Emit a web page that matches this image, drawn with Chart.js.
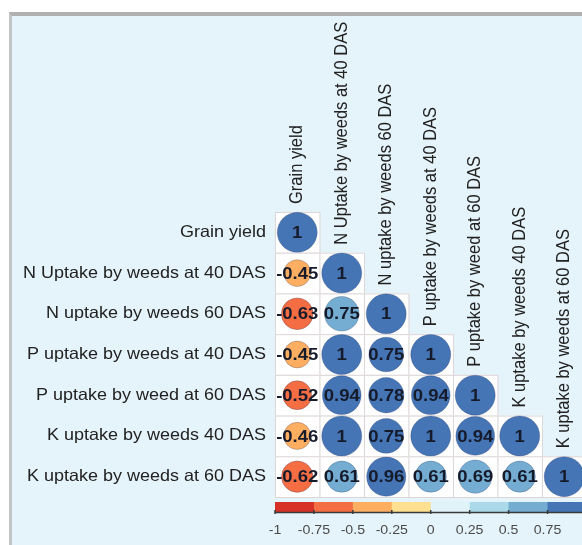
<!DOCTYPE html>
<html>
<head>
<meta charset="utf-8">
<script src="https://cdn.jsdelivr.net/npm/chart.js@4/dist/chart.umd.min.js"></script>
<style>
    html, body { margin: 0; padding: 0; background: #ffffff; }
    #panel {
        position: absolute; left: 9px; top: 12px; width: 573px; height: 533px;
        box-sizing: border-box;
        background: #e5f3fa;
        border-top: 4px solid #b0b0b0;
        border-left: 3px solid #c2c4c6;
    }
    #corrChart { position: absolute; left: 0; top: 0; }
</style>
</head>
<body>
<div id="panel"></div>
<canvas id="corrChart" width="582" height="545"></canvas>
<script>
// Variables (rows top to bottom, columns left to right)
const varLabels = [
    'Grain yield',
    'N Uptake by weeds at 40 DAS',
    'N uptake by weeds 60 DAS',
    'P uptake by weeds at 40 DAS',
    'P uptake by weed at 60 DAS',
    'K uptake by weeds 40 DAS',
    'K uptake by weeds at 60 DAS'
];

// Lower triangle of the correlation matrix, one array per row
const corrRows = [
    [1],
    [-0.45, 1],
    [-0.63, 0.748, 1],
    [-0.45, 1, 0.752, 1],
    [-0.52, 0.94, 0.78, 0.94, 1],
    [-0.46, 1, 0.752, 1, 0.94, 1],
    [-0.62, 0.61, 0.96, 0.61, 0.69, 0.61, 1]
];

// Colour legend
const barBreaks = [-1, -0.75, -0.5, -0.25, 0, 0.25, 0.5, 0.75, 1];
const barTickLabels = ['-1', '-0.75', '-0.5', '-0.25', '0', '0.25', '0.5', '0.75', '1'];
const barColors = ['#d73027', '#f46d43', '#fdae61', '#fee090', '#e0f3f8', '#abd9e9', '#74add1', '#4575b4'];

const STRETCH = 1.09; // the reference is a little wider than tall
const FONT = '"Liberation Sans", Arial, Helvetica, sans-serif';

function colorFor(v) {
    let i = Math.ceil((v + 1) / 0.25) - 1;
    return barColors[Math.min(7, Math.max(0, i))];
}

function fmt(v) {
    if (v === 1) return '1';
    return (Math.round(v * 100) / 100).toFixed(2).replace(/0$/, '');
}

const points = [];
corrRows.forEach((row, i) => {
    row.forEach((v, j) => {
        points.push({ x: j + 1, y: i + 1, r: 20 * Math.sqrt(Math.abs(v)), v: v });
    });
});

function drawText(ctx, text, x, y, angle, font, color, align, baseline) {
    ctx.save();
    ctx.translate(x, y);
    ctx.scale(STRETCH, 1);
    ctx.rotate(angle);
    ctx.font = font;
    ctx.fillStyle = color;
    ctx.textAlign = align;
    ctx.textBaseline = baseline;
    ctx.fillText(text, 0, 0);
    ctx.restore();
}

const corrPlugin = {
    id: 'corrPlugin',
    beforeDatasetsDraw(chart) {
        const { ctx, scales: { x, y } } = chart;
        // cells of the lower triangle
        corrRows.forEach((row, i) => {
            row.forEach((v, j) => {
                const l = x.getPixelForValue(j + 0.5), r = x.getPixelForValue(j + 1.5);
                const t = y.getPixelForValue(i + 0.5), b = y.getPixelForValue(i + 1.5);
                ctx.fillStyle = '#ffffff';
                ctx.fillRect(l, t, r - l, b - t);
                ctx.strokeStyle = '#ddd6d6';
                ctx.lineWidth = 1;
                ctx.strokeRect(l + 0.5, t + 0.5, r - l, b - t);
            });
        });
        // row labels
        varLabels.forEach((lab, i) => {
            drawText(ctx, lab, x.getPixelForValue(0.5) - 9, y.getPixelForValue(i + 1),
                0, '16.5px ' + FONT, '#222222', 'right', 'middle');
        });
        // column labels, vertical above the diagonal cell
        varLabels.forEach((lab, j) => {
            drawText(ctx, lab, x.getPixelForValue(j + 1), y.getPixelForValue(j + 0.5) - 8,
                -Math.PI / 2, '16.5px ' + FONT, '#222222', 'left', 'middle');
        });
    },
    afterDatasetsDraw(chart) {
        const { ctx, scales: { x, y } } = chart;
        points.forEach(p => {
            drawText(ctx, fmt(p.v), x.getPixelForValue(p.x), y.getPixelForValue(p.y) + 1,
                0, 'bold 17px ' + FONT, '#161b2c', 'center', 'middle');
        });
        // colour bar below the grid, -1..1 spread over the grid width
        const n = varLabels.length;
        const toPx = v => x.getPixelForValue(0.5 + (v + 1) / 2 * n);
        const top = y.getPixelForValue(n + 0.5) + 5;
        const h = 10;
        for (let k = 0; k < barColors.length; k++) {
            const l = toPx(barBreaks[k]), r = toPx(barBreaks[k + 1]);
            ctx.fillStyle = barColors[k];
            ctx.fillRect(l, top, r - l + 0.5, h);
        }
        ctx.strokeStyle = '#3a3a3a';
        ctx.lineWidth = 1.5;
        ctx.beginPath();
        ctx.moveTo(toPx(-1), top + h + 0.5);
        ctx.lineTo(toPx(1), top + h + 0.5);
        barBreaks.forEach(b => {
            ctx.moveTo(toPx(b), top + h - 2);
            ctx.lineTo(toPx(b), top + h + 2);
        });
        ctx.stroke();
        barBreaks.forEach((b, k) => {
            drawText(ctx, barTickLabels[k], toPx(b), top + h + 18,
                0, '13px ' + FONT, '#4a4a4a', 'center', 'middle');
        });
    }
};

new Chart(document.getElementById('corrChart'), {
    type: 'bubble',
    data: {
        datasets: [{
            data: points,
            backgroundColor: points.map(p => colorFor(p.v)),
            borderColor: 'rgba(30, 45, 90, 0.25)',
            borderWidth: 1,
            clip: false
        }]
    },
    options: {
        responsive: false,
        animation: false,
        events: [],
        devicePixelRatio: 1,
        layout: { autoPadding: false, padding: { left: 275, top: 212, right: 0, bottom: 48 } },
        plugins: { legend: { display: false }, tooltip: { enabled: false } },
        scales: {
            x: { display: false, min: 0.5, max: 7.4 },
            y: { display: false, min: 0.5, max: 7.5, reverse: true }
        }
    },
    plugins: [corrPlugin]
});
</script>
</body>
</html>
